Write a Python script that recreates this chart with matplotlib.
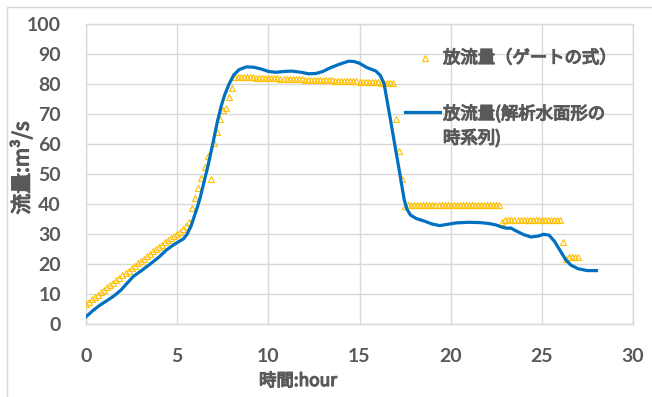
import numpy as np
import matplotlib
matplotlib.use("Agg")
import matplotlib.pyplot as plt
from matplotlib.patches import Rectangle
import matplotlib.patheffects as pe

plt.rcParams['font.family'] = ['Noto Sans CJK JP', 'DejaVu Sans']

# discharge from the gate formula, one value every 10 minutes
gate_q = [
    6.7, 7.4, 8.2, 9.0, 9.8, 10.6, 11.4, 12.2, 13.0, 13.8,
    14.6, 15.4, 16.2, 17.0, 17.8, 18.6, 19.4, 20.2, 21.0, 21.8,
    22.6, 23.4, 24.2, 25.0, 25.8, 26.5, 27.2, 27.9, 28.6, 29.3,
    30.0, 30.8, 31.6, 32.6, 34.0, 38.6, 41.9, 45.2, 48.6, 52.4,
    56.0, 48.3, 60.2, 64.1, 68.2, 71.5, 72.0, 75.6, 78.8,
    82.4, 82.4, 82.3, 82.3, 82.3, 82.2, 82.2, 82.1, 82.1, 82.1,
    82.0, 82.0, 81.9, 81.9, 81.9, 81.8, 81.8, 81.8, 81.7, 81.7,
    81.6, 81.6, 81.6, 81.5, 81.5, 81.5, 81.4, 81.4, 81.3, 81.3,
    81.3, 81.2, 81.2, 81.1, 81.1, 81.1, 81.0, 81.0, 80.9, 80.9,
    80.9, 80.8, 80.8, 80.7, 80.7, 80.7, 80.6, 80.6, 80.5, 80.5,
    80.4, 80.4, 80.3,
    68.3, 57.7, 48.2,
    39.3, 39.8, 39.8, 39.8, 39.8, 39.8, 39.8, 39.7, 39.7, 39.7,
    39.7, 39.7, 39.7, 39.7, 39.7, 39.7, 39.7, 39.7, 39.7, 39.7,
    39.7, 39.7, 39.7, 39.7, 39.6, 39.6, 39.6, 39.6, 39.6, 39.6,
    39.6, 39.6,
    33.9, 34.7, 34.7, 34.7, 34.7, 34.7, 34.7, 34.7, 34.7, 34.7,
    34.7, 34.7, 34.7, 34.7, 34.7, 34.7, 34.7, 34.7, 34.7, 34.7,
    27.4,
    21.8, 22.3, 22.3, 22.3, 22.3,
]
gate_t = np.arange(len(gate_q)) * 10 / 60  # hours

# discharge from the water surface profile analysis
calc_t = [0.0, 0.4, 0.77, 1.1, 1.5, 1.9, 2.3, 2.6, 3.0, 3.5,
          4.0, 4.4, 4.8, 5.1, 5.35, 5.55, 5.75, 5.9, 6.1, 6.25,
          6.5, 6.7, 6.95, 7.2, 7.4, 7.6, 7.85, 8.1, 8.4, 8.8,
          9.2, 9.6, 10.0, 10.4, 10.9, 11.3, 11.8, 12.2, 12.6, 13.0,
          13.4, 13.9, 14.4, 14.7, 15.0, 15.4, 15.9, 16.15, 16.35, 16.6,
          16.9, 17.2, 17.45, 17.6, 17.8, 18.1, 18.6, 19.0, 19.4, 19.8,
          20.3, 21.0, 21.6, 22.1, 22.5, 22.8, 23.1, 23.3, 23.5, 24.0,
          24.4, 24.8, 25.1, 25.4, 25.7, 26.0, 26.3, 26.6, 27.0, 27.5,
          28.0]
calc_q = [2.4, 4.6, 6.3, 7.6, 9.2, 11.2, 13.9, 15.9, 17.6, 19.9,
          22.3, 24.6, 26.4, 27.5, 28.4, 30.0, 32.5, 35.2, 38.8, 41.8,
          48.0, 53.0, 60.0, 67.3, 72.3, 76.3, 80.0, 83.0, 84.8, 85.7,
          85.6, 85.0, 84.2, 83.9, 84.2, 84.3, 83.9, 83.4, 83.5, 84.2,
          85.4, 86.6, 87.6, 87.5, 86.9, 85.5, 84.3, 82.8, 80.0, 71.5,
          61.0, 50.5, 41.5, 38.3, 36.3, 35.2, 34.2, 33.3, 32.8, 33.2,
          33.7, 33.9, 33.8, 33.5, 33.0, 32.3, 31.9, 32.0, 31.3, 29.8,
          29.0, 29.3, 29.9, 29.6, 27.5, 24.5, 21.5, 19.6, 18.4, 17.8,
          17.8]

label_gate = '放流量（ゲートの式）'
label_calc = '放流量(解析水面形の\n時系列)'

text_color = '#595959'
grid_color = '#d9d9d9'
gold = '#FFC000'
blue = '#0070C0'

# the CJK font has a single weight, so thicken it with a stroke
heavy = [pe.withStroke(linewidth=0.9, foreground=text_color)]

W, H = 652, 397
fig = plt.figure(figsize=(W / 100, H / 100), dpi=100)
fig.patches.append(Rectangle((7 / W, -0.1), 1.2, (H - 7) / H + 0.1,
                             transform=fig.transFigure, fill=False,
                             edgecolor=grid_color, lw=1))

ax = fig.add_axes([86 / W, (H - 324) / H, (633 - 86) / W, 300 / H])

ax.plot(gate_t, gate_q, linestyle='none', marker='^', markersize=5,
        markerfacecolor='none', markeredgecolor=gold, markeredgewidth=0.8,
        zorder=3)
ax.plot(calc_t, calc_q, color=blue, lw=2.3, zorder=4)

ax.set_xlim(0, 30)
ax.set_ylim(0, 100)
ax.set_xticks(np.arange(0, 31, 5))
ax.set_yticks(np.arange(0, 101, 10))
ax.grid(True, color=grid_color, lw=1)
ax.set_axisbelow(True)
for s in ax.spines.values():
    s.set_color(grid_color)
    s.set_linewidth(1)
ax.tick_params(length=0, labelcolor=text_color)
ax.tick_params(axis='y', pad=18)
ax.tick_params(axis='x', pad=17)
for lab in ax.get_xticklabels() + ax.get_yticklabels():
    lab.set_family(['Lato', 'DejaVu Sans'])
    lab.set_fontweight('bold')
    lab.set_fontsize(14)

fig.text(298 / W, 1 - 381 / H, '時間:hour', ha='center', va='center',
         fontsize=12.5, color=text_color, path_effects=heavy)
fig.text(22 / W, 1 - 168 / H, '流量:m³/s', ha='center', va='center',
         rotation=90, fontsize=15, color=text_color, path_effects=heavy)

# legend inside the plot area
tr = fig.transFigure
ax.plot([425 / W], [1 - 58 / H], transform=tr, marker='^', markersize=5,
        markerfacecolor='none', markeredgecolor=gold, markeredgewidth=0.8,
        clip_on=False)
ax.plot([405 / W, 440 / W], [1 - 112 / H, 1 - 112 / H], transform=tr,
        color=blue, lw=2.3, clip_on=False)
fig.text(443 / W, 1 - 58 / H, label_gate, ha='left', va='center',
         fontsize=12.5, color=text_color, path_effects=heavy)
fig.text(443 / W, 1 - 126 / H, label_calc, ha='left', va='center',
         fontsize=12.5, color=text_color, linespacing=1.4, path_effects=heavy)

fig.savefig('out.png', dpi=100)
